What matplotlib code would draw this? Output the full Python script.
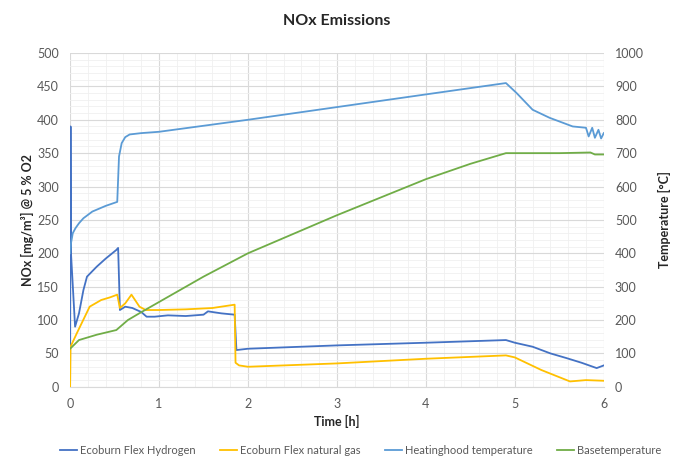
import matplotlib.pyplot as plt
from matplotlib.ticker import MultipleLocator

plt.rcParams['font.family'] = ['Lato', 'DejaVu Sans']

# Ecoburn Flex Hydrogen, NOx (left axis)
t_h2 = [0, 0.005, 0.01, 0.056, 0.1, 0.15, 0.19, 0.3, 0.4, 0.52, 0.54, 0.56, 0.62, 0.7,
        0.8, 0.86, 0.95, 1.1, 1.3, 1.5, 1.55, 1.7, 1.85, 1.87, 2.0, 3.0, 4.0, 4.9,
        5.0, 5.2, 5.4, 5.58, 5.75, 5.92, 6.0]
nox_h2 = [0, 390, 200, 90, 110, 145, 165, 180, 192, 205, 208, 115, 120, 118,
          112, 105, 105, 107, 106, 108, 113, 110, 108, 55, 57, 62, 66, 70,
          66, 60, 50, 43, 36, 28, 32]

# Ecoburn Flex natural gas, NOx (left axis)
t_ng = [0, 0.005, 0.075, 0.22, 0.35, 0.45, 0.53, 0.56, 0.62, 0.69, 0.78, 0.85, 1.0,
        1.3, 1.6, 1.85, 1.86, 1.9, 2.0, 3.0, 4.0, 4.9, 5.0, 5.3, 5.62, 5.8, 6.0]
nox_ng = [0, 60, 80, 120, 130, 134, 138, 118, 125, 138, 120, 115, 115,
          116, 118, 123, 36, 32, 30, 35, 42, 47, 44, 25, 8, 10, 9]

# Heatinghood temperature (right axis)
t_hood = [0, 0.01, 0.03, 0.06, 0.1, 0.15, 0.25, 0.4, 0.53, 0.55, 0.58, 0.62, 0.67,
          0.8, 1.0, 2.0, 3.0, 4.0, 4.9, 5.02, 5.2, 5.39, 5.65, 5.8, 5.83, 5.87, 5.9,
          5.94, 5.97, 6.0]
temp_hood = [400, 430, 460, 475, 490, 505, 525, 542, 554, 690, 730, 748, 756,
             760, 764, 800, 838, 876, 910, 880, 830, 806, 780, 776, 750, 776, 746,
             770, 744, 760]

# Basetemperature (right axis)
t_base = [0, 0.1, 0.3, 0.52, 0.65, 0.79, 1.0, 1.5, 2.0, 3.0, 4.0, 4.5, 4.9, 5.5,
          5.85, 5.9, 6.0]
temp_base = [114, 140, 156, 170, 200, 222, 254, 330, 400, 514, 622, 668, 700, 700,
             702, 696, 696]

c_h2 = '#4472C4'
c_ng = '#FFC000'
c_hood = '#5B9BD5'
c_base = '#70AD47'
grey = '#595959'

fig, ax = plt.subplots(figsize=(6.94, 4.61), dpi=100)
fig.subplots_adjust(left=0.101, right=0.870, top=0.885, bottom=0.161)
ax2 = ax.twinx()

l1, = ax.plot(t_h2, nox_h2, color=c_h2, lw=1.3, zorder=3)
l2, = ax.plot(t_ng, nox_ng, color=c_ng, lw=1.3, zorder=3)
l3, = ax2.plot(t_hood, temp_hood, color=c_hood, lw=1.3)
l4, = ax2.plot(t_base, temp_base, color=c_base, lw=1.3)

ax.set_xlim(0, 6)
ax.set_ylim(0, 500)
ax2.set_ylim(0, 1000)
ax.xaxis.set_major_locator(MultipleLocator(1))
ax.xaxis.set_minor_locator(MultipleLocator(0.2))
ax.yaxis.set_major_locator(MultipleLocator(50))
ax.yaxis.set_minor_locator(MultipleLocator(10))
ax2.yaxis.set_major_locator(MultipleLocator(100))

ax.grid(which='major', color='#D9D9D9', lw=0.8)
ax.grid(which='minor', color='#F0F0F0', lw=0.6)
ax.set_axisbelow(True)

for a in (ax, ax2):
    for s in a.spines.values():
        s.set_visible(False)
    a.tick_params(which='both', length=0, labelsize=9, colors=grey, pad=8)
ax.spines['bottom'].set_visible(True)
ax.spines['bottom'].set_color('#D9D9D9')

ax.set_title('NOx Emissions', fontsize=11.5, fontweight='bold', color='#262626', pad=20)
ax.set_xlabel('Time [h]', fontsize=9, fontweight='bold', color='#262626')
ax.set_ylabel('NOx [mg/m³] @ 5 % O2', fontsize=9, fontweight='bold', color='#262626',
              labelpad=2)
ax2.set_ylabel('Temperature [°C]', fontsize=9, fontweight='bold', color='#262626', labelpad=10)

fig.legend([l1, l2, l3, l4],
           ['Ecoburn Flex Hydrogen', 'Ecoburn Flex natural gas',
            'Heatinghood temperature', 'Basetemperature'],
           loc='lower center', bbox_to_anchor=(0.52, -0.01), ncol=4, frameon=False,
           fontsize=8, handlelength=1.5, handletextpad=0.3, columnspacing=2.2,
           labelcolor=grey)

plt.savefig('out.png', dpi=100)
